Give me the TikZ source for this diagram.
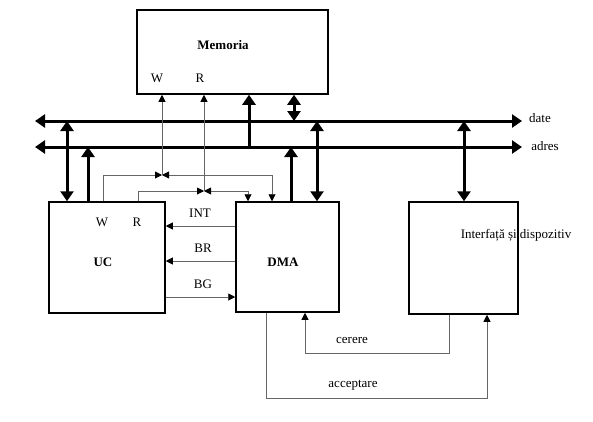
\documentclass[tikz,border=0pt]{standalone}
\usepackage{fontspec}
\setmainfont{Liberation Serif}
\usetikzlibrary{arrows.meta}
\begin{document}
\begin{tikzpicture}[x=1pt,y=-1pt,
    font=\fontsize{13}{15}\selectfont,
    box/.style={draw,line width=1.5pt,inner sep=0pt},
    bus/.style={line width=3pt,>={Triangle[length=10pt,width=13pt]}},
    ctl/.style={line width=0.9pt,draw=black!60,>={Triangle[length=7pt,width=7pt,color=black]}}]
\useasboundingbox (0,0) rectangle (593,421);
\node[box,minimum width=191pt,minimum height=84pt] (mem) at (232.5,52) {};
\node[box,minimum width=116pt,minimum height=111pt] (uc) at (107,257.5) {};
\node[box,minimum width=103pt,minimum height=110pt] (dma) at (287.5,257) {};
\node[box,minimum width=109pt,minimum height=112pt] (intf) at (463.5,258) {};
\node (memt) at (223,45) {\textbf{Memoria}};
\node (memw) at (157,78) {W};
\node (memr) at (200,78) {R};
\node (ucw) at (102,222) {W};
\node (ucr) at (137,222) {R};
\node (uct) at (103,262) {\textbf{UC}};
\node (dmat) at (283,262) {\textbf{DMA}};
\node (intft) at (516,235) {Interfață și dispozitiv};
\coordinate (dl) at (35,121);
\coordinate (dr) at (522,121);
\coordinate (al) at (35,147);
\coordinate (ar) at (522,147);
\node (date) at (540,118) {date};
\node (adres) at (545,146) {adres};
\draw[bus,<->] (dl) -- (dr);
\draw[bus,<->] (al) -- (ar);
\draw[bus,->] (al -| 249,0) -- (mem.south -| 249,0);
\draw[bus,<->] (mem.south -| 294,0) -- (dl -| 294,0);
\draw[bus,<->] (dl -| 67,0) -- (uc.north -| 67,0);
\draw[bus,->] (uc.north -| 88,0) -- (al -| 88,0);
\draw[bus,->] (dma.north -| 291,0) -- (al -| 291,0);
\draw[bus,<->] (dl -| 317,0) -- (dma.north -| 317,0);
\draw[bus,<->] (dl -| 464,0) -- (intf.north -| 464,0);
\coordinate (jw) at (162,175);
\coordinate (jr) at (204,191);
\draw[ctl,->] (jw) -- (mem.south -| jw);
\draw[ctl,->] (jr) -- (mem.south -| jr);
\draw[ctl,->] (uc.north -| 103,0) |- (jw);
\draw[ctl,<->] (jw) -| (dma.north -| 272,0);
\draw[ctl,->] (uc.north -| 138,0) |- (jr);
\draw[ctl,<->] (jr) -| (dma.north -| 248,0);
\node (int) at (200,213) {INT};
\node (br) at (203,248) {BR};
\node (bg) at (203,284) {BG};
\draw[ctl,->] (dma.west |- 0,226) -- (uc.east |- 0,226);
\draw[ctl,->] (dma.west |- 0,261) -- (uc.east |- 0,261);
\draw[ctl,->] (uc.east |- 0,297) -- (dma.west |- 0,297);
\node (cer) at (352,340) {cerere};
\node (acc) at (353,385) {acceptare};
\draw[ctl,->] (intf.south -| 449,0) -- ++(0,39) -| (dma.south -| 305,0);
\draw[ctl,->] (dma.south -| 266,0) -- ++(0,86) -| (intf.south -| 487,0);
\end{tikzpicture}
\end{document}
